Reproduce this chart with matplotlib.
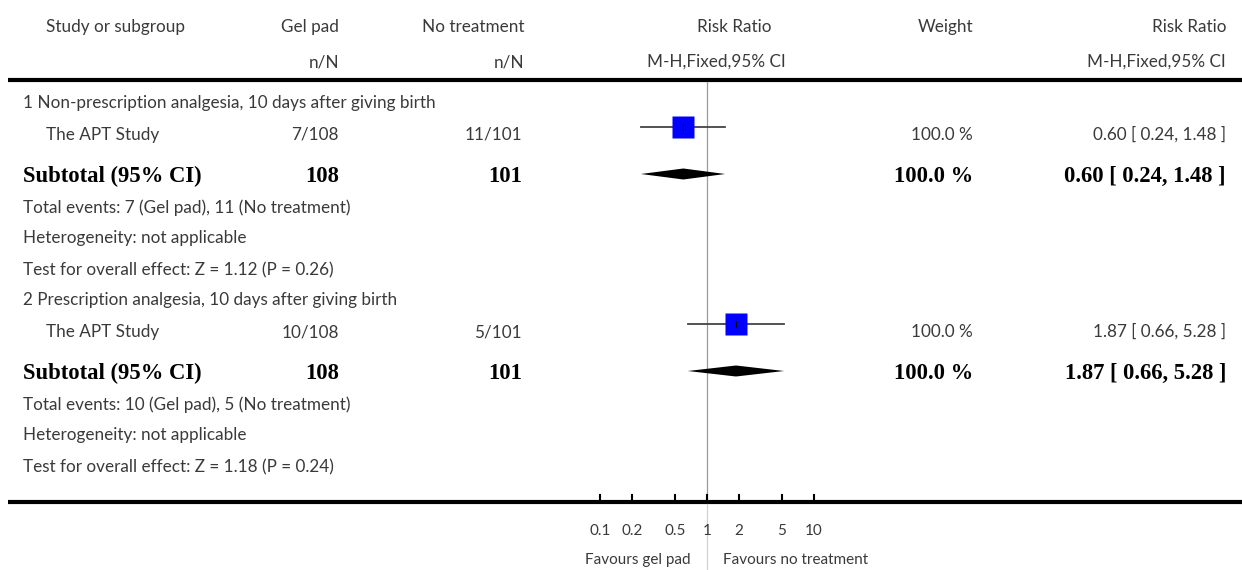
import matplotlib
matplotlib.use("Agg")
import matplotlib.pyplot as plt
import numpy as np

# data
groups = ["1 Non-prescription analgesia, 10 days after giving birth",
          "2 Prescription analgesia, 10 days after giving birth"]
study = "The APT Study"
gel_events = [7, 10]
gel_total = [108, 108]
ctl_events = [11, 5]
ctl_total = [101, 101]
rr = [0.60, 1.87]
rr_lo = [0.24, 0.66]
rr_hi = [1.48, 5.28]
weight = [100.0, 100.0]
z_val = [1.12, 1.18]
p_val = [0.26, 0.24]
ticks = [0.1, 0.2, 0.5, 1, 2, 5, 10]
tick_labels = ["0.1", "0.2", "0.5", "1", "2", "5", "10"]

W, H = 1242, 570
fig = plt.figure(figsize=(W / 100, H / 100), dpi=100)

# text layer in pixel coords
ax0 = fig.add_axes([0, 0, 1, 1])
ax0.set_xlim(0, W)
ax0.set_ylim(H, 0)
ax0.axis("off")

# forest axes, log scale: 1 at x=707px, 106.6 px per decade
c1, dec = 707.0, 106.6
px_l, px_r = 560.0, 860.0
ax = fig.add_axes([px_l / W, 0, (px_r - px_l) / W, 1])
ax.set_xscale("log")
ax.set_xlim(10 ** ((px_l - c1) / dec), 10 ** ((px_r - c1) / dec))
ax.set_ylim(H, 0)
ax.axis("off")

sans = dict(family="Lato", color="#3a3a3a", fontsize=12.3)
serif = dict(family="Liberation Serif", fontweight="bold", color="black", fontsize=16.3)
small = dict(family="Lato", color="#3a3a3a", fontsize=11)

# columns
x_study, x_grp = 46, 23
x_gel, x_ctl, x_wt, x_rr = 339, 522, 973, 1226

# header
ax0.text(x_study, 32, "Study or subgroup", ha="left", va="baseline", **sans)
ax0.text(x_gel, 32, "Gel pad", ha="right", va="baseline", **sans)
ax0.text(x_ctl + 2, 32, "No treatment", ha="right", va="baseline", **sans)
ax0.text(734, 32, "Risk Ratio", ha="center", va="baseline", **sans)
ax0.text(x_wt, 32, "Weight", ha="right", va="baseline", **sans)
ax0.text(x_rr, 32, "Risk Ratio", ha="right", va="baseline", **sans)
ax0.text(x_gel, 67, "n/N", ha="right", va="baseline", **sans)
ax0.text(x_ctl + 2, 67, "n/N", ha="right", va="baseline", **sans)
ax0.text(716, 67, "M-H,Fixed,95% CI", ha="center", va="baseline", **sans)
ax0.text(x_rr, 67, "M-H,Fixed,95% CI", ha="right", va="baseline", **sans)

ax0.plot([8, W], [80, 80], color="black", lw=3, solid_capstyle="butt")
ax0.plot([8, W], [502, 502], color="black", lw=3, solid_capstyle="butt")

# reference line at 1
ax.plot([1, 1], [82, 500], color="#9a9a9a", lw=0.9)
ax.plot([1, 1], [504, H], color="#d0d0d0", lw=0.9)

for i in range(2):
    b = 108 + 197 * i
    ax0.text(x_grp, b, groups[i], ha="left", va="baseline", **sans)
    ys = b + 32
    ax0.text(x_study, ys, study, ha="left", va="baseline", **sans)
    ax0.text(x_gel, ys, f"{gel_events[i]}/{gel_total[i]}", ha="right", va="baseline", **sans)
    ax0.text(x_ctl, ys, f"{ctl_events[i]}/{ctl_total[i]}", ha="right", va="baseline", **sans)
    ax0.text(x_wt, ys, f"{weight[i]:.1f} %", ha="right", va="baseline", **sans)
    ax0.text(x_rr, ys, f"{rr[i]:.2f} [ {rr_lo[i]:.2f}, {rr_hi[i]:.2f} ]",
             ha="right", va="baseline", **sans)
    yc = ys - 13
    ax.plot([rr_lo[i], rr_hi[i]], [yc, yc], color="#444444", lw=1.3, zorder=2)
    ax.plot([rr[i]], [yc], marker="s", ms=15.8, color="#0000ff", mec="none", zorder=3)
    ax.plot([rr[i], rr[i]], [yc - 3, yc + 3], color="black", lw=0.8, zorder=4)

    yt = b + 74
    ax0.text(x_grp, yt, "Subtotal (95% CI)", ha="left", va="baseline", **serif)
    ax0.text(x_gel, yt, f"{gel_total[i]}", ha="right", va="baseline", **serif)
    ax0.text(x_ctl, yt, f"{ctl_total[i]}", ha="right", va="baseline", **serif)
    ax0.text(x_wt, yt, f"{weight[i]:.1f} %", ha="right", va="baseline", **serif)
    ax0.text(x_rr, yt, f"{rr[i]:.2f} [ {rr_lo[i]:.2f}, {rr_hi[i]:.2f} ]",
             ha="right", va="baseline", **serif)
    yd = yt - 8
    ax.fill([rr_lo[i], rr[i], rr_hi[i], rr[i]], [yd, yd - 5.5, yd, yd + 5.5],
            color="black", lw=0, zorder=3)

    ax0.text(x_grp, b + 105, f"Total events: {gel_events[i]} (Gel pad), "
             f"{ctl_events[i]} (No treatment)", ha="left", va="baseline", **sans)
    ax0.text(x_grp, b + 135, "Heterogeneity: not applicable", ha="left", va="baseline", **sans)
    ax0.text(x_grp, b + 167, f"Test for overall effect: Z = {z_val[i]:.2f} (P = {p_val[i]:.2f})",
             ha="left", va="baseline", **sans)

# axis ticks
for t, lab in zip(ticks, tick_labels):
    ax.plot([t, t], [495, 502], color="black", lw=1.5)
    ax.text(t, 535, lab, ha="center", va="baseline", **small)
ax.text(0.70, 564, "Favours gel pad", ha="right", va="baseline", **small)
ax.text(1.40, 564, "Favours no treatment", ha="left", va="baseline", **small)

fig.savefig("out.png", dpi=100)
